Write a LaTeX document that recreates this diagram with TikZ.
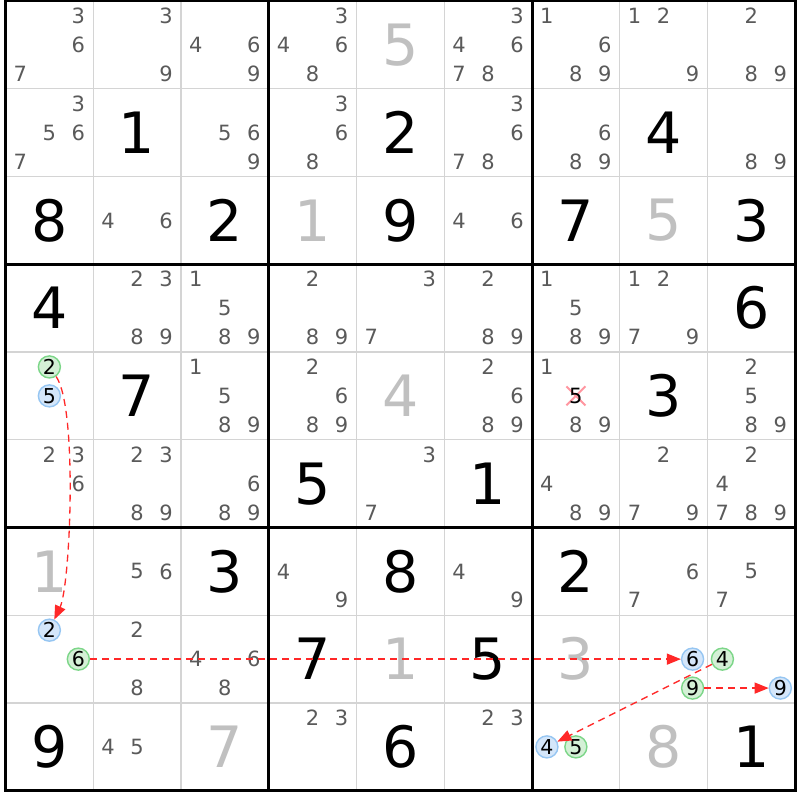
\documentclass[tikz,border=0pt]{standalone}
\usepackage{fontspec}
\setmainfont{DejaVu Sans}
\usetikzlibrary{arrows.meta, shapes.misc}

\definecolor{candgray}{RGB}{90,90,90}
\definecolor{givengray}{RGB}{192,192,192}
\definecolor{gridgray}{RGB}{212,212,212}
\definecolor{linkred}{RGB}{255,40,40}
\definecolor{onfill}{RGB}{212,240,214}
\definecolor{ondraw}{RGB}{124,214,136}
\definecolor{offfill}{RGB}{212,230,250}
\definecolor{offdraw}{RGB}{150,198,242}
\definecolor{strikepink}{RGB}{255,150,160}

% pencil marks of one cell: row, column, digits
\newcommand{\cands}[3]{%
  \foreach \d in {#3}{%
    \pgfmathsetmacro{\cx}{#2-0.5+(mod(\d-1,3)-1)*0.33}%
    \pgfmathsetmacro{\cy}{#1-0.5+(floor((\d-1)/3)-1)*0.33}%
    \node[cand] (r#1c#2d\d) at (\cx,\cy) {\d};
  }%
}

\begin{document}
\begin{tikzpicture}[
    cand/.style={font=\fontsize{21}{24}\selectfont, text=candgray, inner sep=0pt},
    solved/.style={font=\fontsize{57}{60}\selectfont, text=black, inner sep=0pt},
    given/.style={solved, text=givengray},
    oncand/.style={circle, draw=ondraw, fill=onfill, line width=1.4pt, minimum size=22pt, inner sep=0pt, font=\fontsize{20.5}{24}\selectfont, text=black},
    offcand/.style={oncand, draw=offdraw, fill=offfill},
    strikemark/.style={cross out, draw=strikepink, line width=2pt, minimum width=17pt, minimum height=17pt, inner sep=0pt},
    link/.style={-{Triangle[length=14pt,width=11pt]}, color=linkred, line width=1.3pt, dash pattern=on 7pt off 5pt}
]
\fill[white] (0pt,0pt) rectangle (800pt,-800pt);
\useasboundingbox (0pt,0pt) rectangle (800pt,-800pt);

\begin{scope}[x=87.75pt, y=-87.75pt, shift={(5.5pt,-1pt)}]

% Grid
\foreach \i in {1,...,8}{
  \draw[gridgray, line width=1.3pt] (\i,0) -- (\i,9);
  \draw[gridgray, line width=1.3pt] (0,\i) -- (9,\i);
}
\foreach \i in {3,6}{
  \draw[black, line width=3pt] (\i,0) -- (\i,9);
  \draw[black, line width=3pt] (0,\i) -- (9,\i);
}
\draw[black, line width=3pt] (0,0) rectangle (9,9);

% Given and solved digits
\node[given]  (r1c5) at (4.5,0.5) {5};
\node[solved] (r2c2) at (1.5,1.5) {1};
\node[solved] (r2c5) at (4.5,1.5) {2};
\node[solved] (r2c8) at (7.5,1.5) {4};
\node[solved] (r3c1) at (0.5,2.5) {8};
\node[solved] (r3c3) at (2.5,2.5) {2};
\node[given]  (r3c4) at (3.5,2.5) {1};
\node[solved] (r3c5) at (4.5,2.5) {9};
\node[solved] (r3c7) at (6.5,2.5) {7};
\node[given]  (r3c8) at (7.5,2.5) {5};
\node[solved] (r3c9) at (8.5,2.5) {3};
\node[solved] (r4c1) at (0.5,3.5) {4};
\node[solved] (r4c9) at (8.5,3.5) {6};
\node[solved] (r5c2) at (1.5,4.5) {7};
\node[given]  (r5c5) at (4.5,4.5) {4};
\node[solved] (r5c8) at (7.5,4.5) {3};
\node[solved] (r6c4) at (3.5,5.5) {5};
\node[solved] (r6c6) at (5.5,5.5) {1};
\node[given]  (r7c1) at (0.5,6.5) {1};
\node[solved] (r7c3) at (2.5,6.5) {3};
\node[solved] (r7c5) at (4.5,6.5) {8};
\node[solved] (r7c7) at (6.5,6.5) {2};
\node[solved] (r8c4) at (3.5,7.5) {7};
\node[given]  (r8c5) at (4.5,7.5) {1};
\node[solved] (r8c6) at (5.5,7.5) {5};
\node[given]  (r8c7) at (6.5,7.5) {3};
\node[solved] (r9c1) at (0.5,8.5) {9};
\node[given]  (r9c3) at (2.5,8.5) {7};
\node[solved] (r9c5) at (4.5,8.5) {6};
\node[given]  (r9c8) at (7.5,8.5) {8};
\node[solved] (r9c9) at (8.5,8.5) {1};

% Pencil marks
\cands{1}{1}{3,6,7}
\cands{1}{2}{3,9}
\cands{1}{3}{4,6,9}
\cands{1}{4}{3,4,6,8}
\cands{1}{6}{3,4,6,7,8}
\cands{1}{7}{1,6,8,9}
\cands{1}{8}{1,2,9}
\cands{1}{9}{2,8,9}
\cands{2}{1}{3,5,6,7}
\cands{2}{3}{5,6,9}
\cands{2}{4}{3,6,8}
\cands{2}{6}{3,6,7,8}
\cands{2}{7}{6,8,9}
\cands{2}{9}{8,9}
\cands{3}{2}{4,6}
\cands{3}{6}{4,6}
\cands{4}{2}{2,3,8,9}
\cands{4}{3}{1,5,8,9}
\cands{4}{4}{2,8,9}
\cands{4}{5}{3,7}
\cands{4}{6}{2,8,9}
\cands{4}{7}{1,5,8,9}
\cands{4}{8}{1,2,7,9}
\cands{5}{3}{1,5,8,9}
\cands{5}{4}{2,6,8,9}
\cands{5}{6}{2,6,8,9}
\cands{5}{7}{1,8,9}
\cands{5}{9}{2,5,8,9}
\cands{6}{1}{2,3,6}
\cands{6}{2}{2,3,8,9}
\cands{6}{3}{6,8,9}
\cands{6}{5}{3,7}
\cands{6}{7}{4,8,9}
\cands{6}{8}{2,7,9}
\cands{6}{9}{2,4,7,8,9}
\cands{7}{2}{5,6}
\cands{7}{4}{4,9}
\cands{7}{6}{4,9}
\cands{7}{8}{6,7}
\cands{7}{9}{5,7}
\cands{8}{2}{2,8}
\cands{8}{3}{4,6,8}
\cands{9}{2}{4,5}
\cands{9}{4}{2,3}
\cands{9}{6}{2,3}

% Eliminated candidate
\node[strikemark] (r5c7x) at (6.5,4.5) {};
\node[cand, text=black] (r5c7d5) at (6.5,4.5) {5};

% Chain candidates
\node[oncand]  (r5c1d2) at (0.5,4.17) {2};
\node[offcand] (r5c1d5) at (0.5,4.5) {5};
\node[offcand] (r8c1d2) at (0.5,7.17) {2};
\node[oncand]  (r8c1d6) at (0.83,7.5) {6};
\node[offcand] (r8c8d6) at (7.83,7.5) {6};
\node[oncand]  (r8c8d9) at (7.83,7.83) {9};
\node[oncand]  (r8c9d4) at (8.17,7.5) {4};
\node[offcand] (r8c9d9) at (8.83,7.83) {9};
\node[offcand] (r9c7d4) at (6.17,8.5) {4};
\node[oncand]  (r9c7d5) at (6.5,8.5) {5};

% Links
\draw[link] (r5c1d2) to[out=-55, in=65, looseness=0.4] (r8c1d2);
\draw[link] (r8c1d6) -- (r8c8d6);
\draw[link] (r8c9d4) -- (r9c7d4);
\draw[link] (r8c8d9) -- (r8c9d9);

\end{scope}
\end{tikzpicture}
\end{document}
